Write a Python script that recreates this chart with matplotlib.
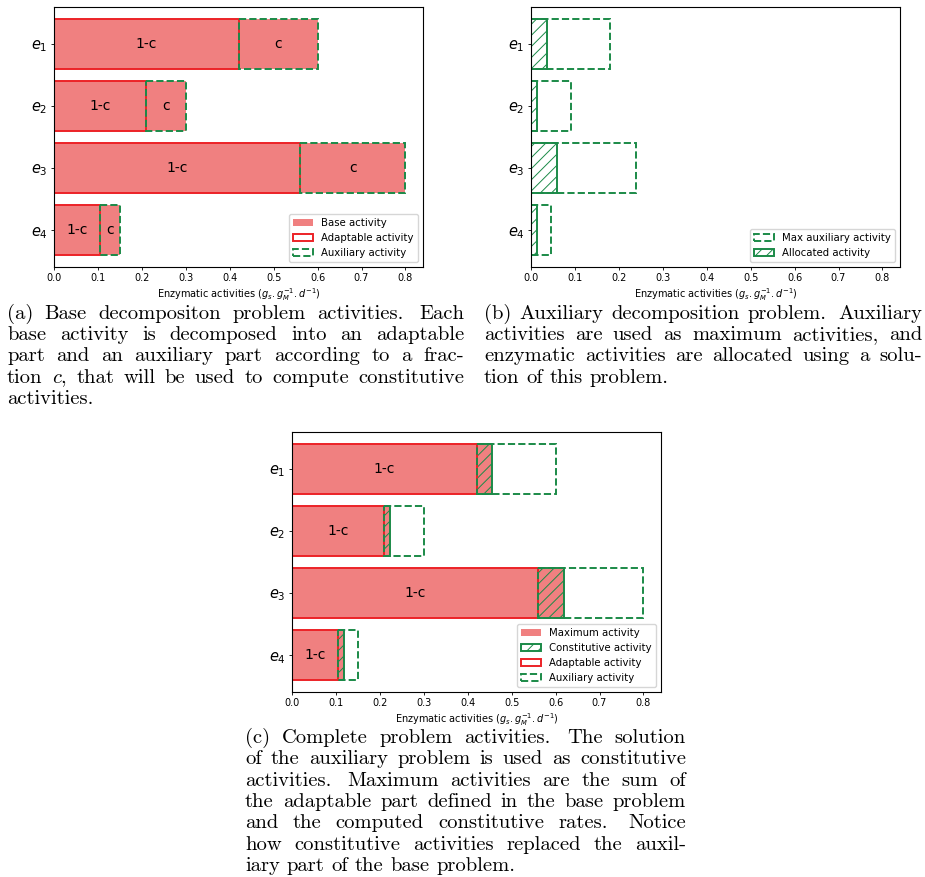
import matplotlib
matplotlib.use("Agg")
import matplotlib.pyplot as plt
from matplotlib.patches import Patch

# enzymatic activities (g_s . g_M^-1 . d^-1)
enzymes = ["$e_1$", "$e_2$", "$e_3$", "$e_4$"]
base = [0.6, 0.3, 0.8, 0.15]
adaptable = [0.42, 0.21, 0.56, 0.105]
auxiliary = [0.18, 0.09, 0.24, 0.045]
allocated = [0.036, 0.014, 0.06, 0.014]

xticks = [0.0, 0.1, 0.2, 0.3, 0.4, 0.5, 0.6, 0.7, 0.8]
xlabel = r"Enzymatic activities ($g_s.g_M^{-1}.d^{-1}$)"

caption_a = [
    "(a) Base decompositon problem activities. Each",
    "base activity is decomposed into an adaptable",
    "part and an auxiliary part according to a frac-",
    "tion $c$, that will be used to compute constitutive",
    "activities.",
]
caption_b = [
    "(b) Auxiliary decomposition problem. Auxiliary",
    "activities are used as maximum activities, and",
    "enzymatic activities are allocated using a solu-",
    "tion of this problem.",
]
caption_c = [
    "(c) Complete problem activities. The solution",
    "of the auxiliary problem is used as constitutive",
    "activities. Maximum activities are the sum of",
    "the adaptable part defined in the base problem",
    "and the computed constitutive rates. Notice",
    "how constitutive activities replaced the auxil-",
    "iary part of the base problem.",
]

W, H = 925, 877
FILL = "lightcoral"
RED = "#ec2227"
GREEN = "#1b8a48"
LW = 1.4

plt.rcParams["hatch.linewidth"] = 0.7


def px_axes(fig, left, top, right, bottom):
    return fig.add_axes([left / W, 1 - bottom / H, (right - left) / W, (bottom - top) / H])


def style(ax):
    y = list(range(len(enzymes)))
    ax.set_yticks(y)
    ax.set_yticklabels(enzymes, fontsize=10.5)
    ax.set_xticks(xticks)
    ax.set_xticklabels([f"{t:.1f}" for t in xticks], fontsize=7)
    ax.set_xlim(0, 0.84)
    ax.set_ylim(3.59, -0.59)
    ax.set_xlabel(xlabel, fontsize=7, labelpad=2)
    ax.tick_params(length=2.5, width=0.6, pad=2)


def justified(fig, lines, x0, x1, y0, step, size=14.8):
    renderer = fig.canvas.get_renderer()
    space = 0.333 * size * 100 / 72
    for i, line in enumerate(lines):
        words = line.split()
        y = 1 - (y0 + i * step) / H
        texts = [fig.text(0, y, w, fontsize=size, family="cmr10", math_fontfamily="cm",
                          va="baseline") for w in words]
        widths = [t.get_window_extent(renderer).width for t in texts]
        # sentence ends get a wider gap, as in TeX
        weights = [1.4 if w.endswith(".") else 1.0 for w in words[:-1]]
        if i == len(lines) - 1:
            gaps = [space * k for k in weights]
        else:
            unit = (x1 - x0 - sum(widths)) / sum(weights)
            gaps = [unit * k for k in weights]
        x = x0
        for j, (t, w) in enumerate(zip(texts, widths)):
            t.set_x(x / W)
            if j < len(gaps):
                x += w + gaps[j]


fig = plt.figure(figsize=(W / 100, H / 100), dpi=100)
y = list(range(len(enzymes)))

# (a) base decomposition
ax = px_axes(fig, 54, 7, 423, 267)
ax.barh(y, base, height=0.8, color=FILL)
ax.barh(y, adaptable, height=0.8, facecolor="none", edgecolor=RED, linewidth=LW)
ax.barh(y, auxiliary, left=adaptable, height=0.8, facecolor="none", edgecolor=GREEN,
        linewidth=LW, linestyle="--")
for i in y:
    ax.text(adaptable[i] / 2, i, "1-c", ha="center", va="center", fontsize=10)
    ax.text(adaptable[i] + auxiliary[i] / 2, i, "c", ha="center", va="center", fontsize=10)
style(ax)
ax.legend(handles=[
    Patch(facecolor=FILL, label="Base activity"),
    Patch(facecolor="none", edgecolor=RED, linewidth=LW, label="Adaptable activity"),
    Patch(facecolor="none", edgecolor=GREEN, linewidth=LW, linestyle="--", label="Auxiliary activity"),
], loc="lower right", fontsize=7.3)

# (b) auxiliary decomposition
ax = px_axes(fig, 531, 7, 900, 267)
ax.barh(y, auxiliary, height=0.8, facecolor="none", edgecolor=GREEN, linewidth=LW, linestyle="--",
        label="Max auxiliary activity")
ax.barh(y, allocated, height=0.8, facecolor="none", edgecolor=GREEN, linewidth=LW, hatch="///",
        label="Allocated activity")
style(ax)
ax.legend(loc="lower right", fontsize=7.3)

# (c) complete problem
maximum = [a + b for a, b in zip(adaptable, allocated)]
ax = px_axes(fig, 292, 432, 661, 692)
ax.barh(y, maximum, height=0.8, color=FILL, label="Maximum activity")
ax.barh(y, allocated, left=adaptable, height=0.8, facecolor="none", edgecolor=GREEN,
        linewidth=LW, hatch="///", label="Constitutive activity")
ax.barh(y, adaptable, height=0.8, facecolor="none", edgecolor=RED, linewidth=LW,
        label="Adaptable activity")
ax.barh(y, auxiliary, left=adaptable, height=0.8, facecolor="none", edgecolor=GREEN,
        linewidth=LW, linestyle="--", label="Auxiliary activity")
for i in y:
    ax.text(adaptable[i] / 2, i, "1-c", ha="center", va="center", fontsize=10)
style(ax)
ax.legend(loc="lower right", fontsize=7.3)

justified(fig, caption_a, 7, 464, 318.5, 21.5)
justified(fig, caption_b, 484, 922, 318.5, 21.5)
justified(fig, caption_c, 245, 686, 743, 21.3)

fig.savefig("out.png", dpi=100)
